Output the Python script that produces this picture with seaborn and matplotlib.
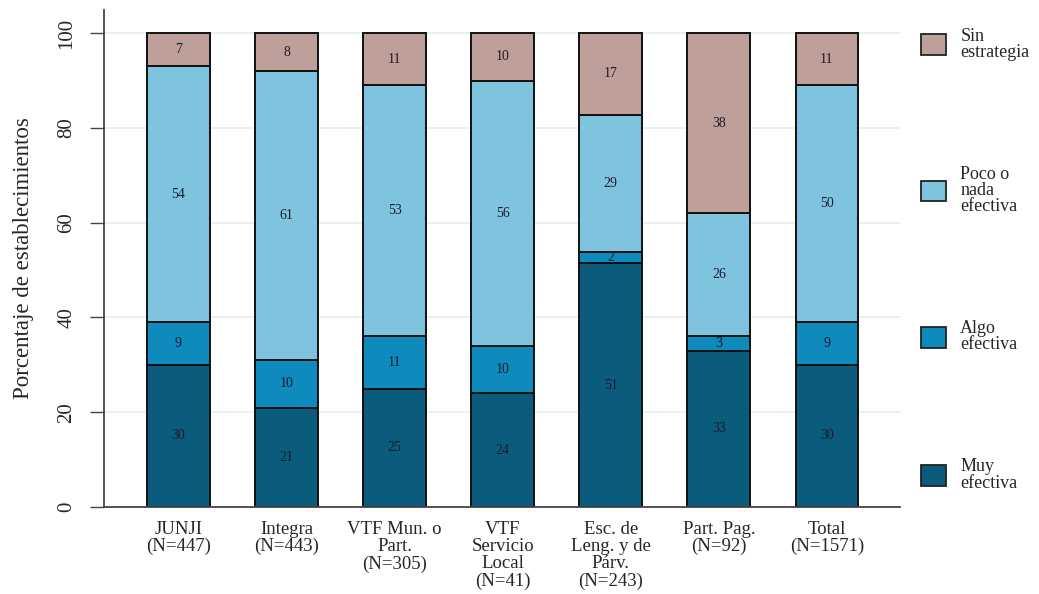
import matplotlib
matplotlib.use("Agg")
import matplotlib.pyplot as plt
from matplotlib.patches import Patch
import seaborn as sns
import pandas as pd
import numpy as np

categories = ["JUNJI\n(N=447)", "Integra\n(N=443)", "VTF Mun. o\nPart.\n(N=305)",
              "VTF\nServicio\nLocal\n(N=41)", "Esc. de\nLeng. y de\nPárv.\n(N=243)",
              "Part. Pag.\n(N=92)", "Total\n(N=1571)"]
muy_efectiva = [30, 21, 25, 24, 51.4, 33, 30]
algo_efectiva = [9, 10, 11, 10, 2.4, 3, 9]
poco_efectiva = [54, 61, 53, 56, 29.0, 26, 50]
sin_estrategia = [7, 8, 11, 10, 17.2, 38, 11]

series = [
    ("Muy\nefectiva", muy_efectiva, "#0b5b7c"),
    ("Algo\nefectiva", algo_efectiva, "#0e8abd"),
    ("Poco o\nnada\nefectiva", poco_efectiva, "#7ec4de"),
    ("Sin\nestrategia", sin_estrategia, "#bf9f99"),
]

sns.set_theme(style="white")
plt.rcParams["font.family"] = ["Liberation Serif", "DejaVu Serif"]

fig = plt.figure(figsize=(10.39, 5.94), dpi=100)
ax = fig.add_axes([104 / 1039, 1 - 507 / 594, (900 - 104) / 1039, (507 - 10) / 594])

bottom = np.zeros(len(categories))
for name, vals, col in series:
    df = pd.DataFrame({"cat": categories, "val": vals})
    sns.barplot(data=df, x="cat", y="val", order=categories, color=col,
                bottom=bottom, width=0.58, edgecolor="#111111", linewidth=1.4,
                saturation=1, ax=ax, errorbar=None)
    ax.bar_label(ax.containers[-1], labels=[f"{v:.0f}" for v in vals],
                 label_type="center", fontsize=10, color="#1b1b2b")
    bottom = bottom + np.array(vals)

ax.set_xlim(-0.688, 6.676)
ax.set_ylim(0, 104.9)
ax.set_yticks([0, 20, 40, 60, 80, 100])
ax.set_yticklabels(["0", "20", "40", "60", "80", "100"], rotation=90, va="center", fontsize=15)
ax.set_xlabel("")
ax.set_ylabel("Porcentaje de establecimientos", fontsize=16.5, labelpad=17)
ax.tick_params(axis="x", length=0, pad=10, labelsize=13.5)
ax.tick_params(axis="y", length=10, width=1, color="#444444", pad=10, left=True)
for lbl in ax.get_xticklabels():
    lbl.set_linespacing(1.02)

ax.yaxis.grid(True, color="#e6eff1", linewidth=1.3)
ax.set_axisbelow(True)
for s in ["top", "right"]:
    ax.spines[s].set_visible(False)
for s in ["left", "bottom"]:
    ax.spines[s].set_color("#444444")
    ax.spines[s].set_linewidth(1.3)

handles = [Patch(facecolor=col, edgecolor="#222222", linewidth=1.3, label=name)
           for name, vals, col in reversed(series)]
leg = ax.legend(handles=handles, loc="upper left", bbox_to_anchor=(1.01, 0.99),
                frameon=False, fontsize=13, labelspacing=5.8, handlelength=1.4,
                handleheight=1.4, handletextpad=0.8, borderaxespad=0.3)
for t in leg.get_texts():
    t.set_linespacing(0.95)

fig.savefig("out.png", dpi=100)
